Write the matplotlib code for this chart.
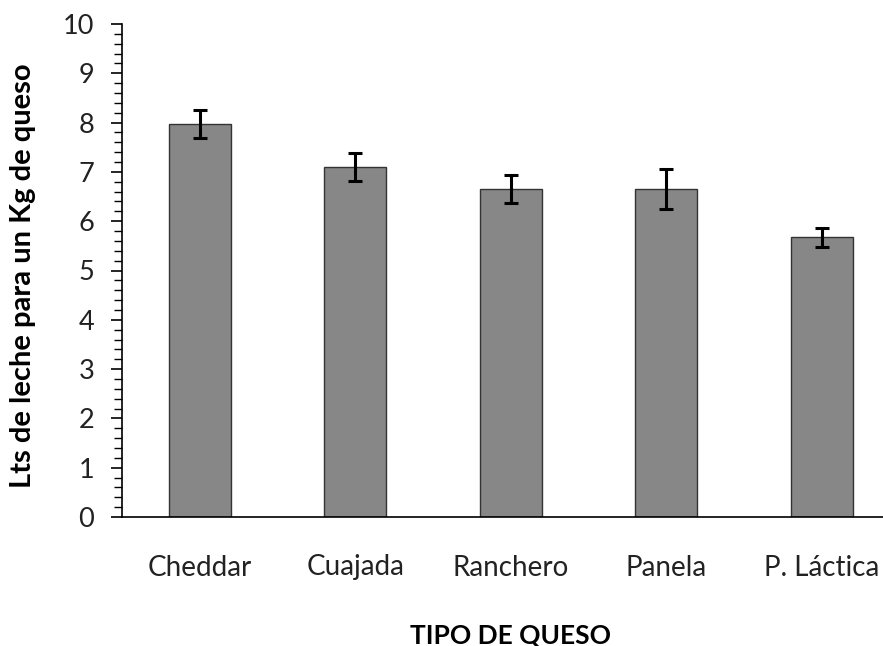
import matplotlib
matplotlib.use("Agg")
import matplotlib.pyplot as plt
from matplotlib.ticker import MultipleLocator

categories = ["Cheddar", "Cuajada", "Ranchero", "Panela", "P. Láctica"]
values = [7.97, 7.10, 6.65, 6.65, 5.67]
errors = [0.29, 0.29, 0.28, 0.40, 0.19]
y_ticks = [0, 1, 2, 3, 4, 5, 6, 7, 8, 9, 10]

plt.rcParams['font.family'] = ['Lato', 'DejaVu Sans']

fig = plt.figure(figsize=(8.83, 6.46), dpi=100)
ax = fig.add_axes([122/883, 129/646, 761/883, 493/646])

x = list(range(len(categories)))
ax.bar(x, values, width=0.4, color="#878787", edgecolor="#333333", linewidth=1.0, zorder=2)
ax.errorbar(x, values, yerr=errors, fmt='none', ecolor='black', elinewidth=2.2,
            capsize=5, capthick=2.2, zorder=3)

ax.set_xlim(-0.5, 761/155.5 - 0.5)
ax.set_ylim(0, 10)
ax.set_yticks(y_ticks)
ax.yaxis.set_minor_locator(MultipleLocator(0.2))
ax.set_xticks(x)
ax.set_xticklabels(categories)

for s in ['top', 'right']:
    ax.spines[s].set_visible(False)
ax.spines['left'].set_linewidth(1.2)
ax.spines['bottom'].set_linewidth(1.2)

ax.tick_params(axis='y', which='major', direction='out', length=8, width=1.2,
               labelsize=19.5, pad=12, labelcolor='#222222')
ax.tick_params(axis='y', which='minor', direction='out', length=6, width=1.0)
ax.tick_params(axis='x', which='both', length=0, labelsize=20, pad=27, labelcolor='#222222')

ax.set_ylabel("Lts de leche para un Kg de queso", fontsize=21, fontweight='bold', va='center')
ax.yaxis.set_label_coords(-0.130, 0.489)
ax.set_xlabel("TIPO DE QUESO", fontsize=19, fontweight='bold', va='baseline')
ax.xaxis.set_label_coords(0.51, -0.2556)

fig.savefig("out.png", dpi=100)
